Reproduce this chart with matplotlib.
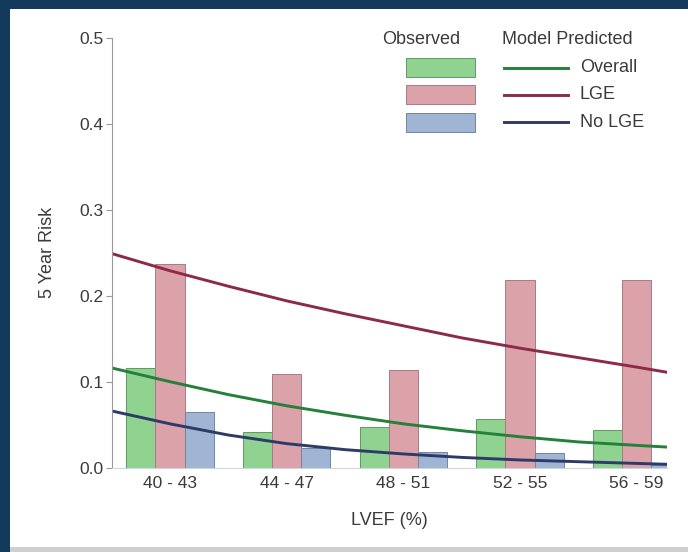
import numpy as np
import matplotlib
matplotlib.use('Agg')
import matplotlib.pyplot as plt
from matplotlib.patches import Rectangle
from matplotlib.lines import Line2D

plt.rcParams['font.family'] = ['Liberation Sans', 'DejaVu Sans']

# observed 5 year risk per LVEF bin
categories = ['40 - 43', '44 - 47', '48 - 51', '52 - 55', '56 - 59']
obs_overall = [0.116, 0.042, 0.047, 0.057, 0.044]
obs_lge = [0.237, 0.109, 0.114, 0.218, 0.218]
obs_no_lge = [0.065, 0.023, 0.018, 0.017, 0.003]

curve_x = [-0.5, 0, 0.5, 1, 1.5, 2, 2.5, 3, 3.5, 4, 4.26]
pred_overall = [0.116, 0.100, 0.085, 0.072, 0.061, 0.051, 0.043, 0.036, 0.030, 0.026, 0.024]
pred_lge = [0.249, 0.229, 0.211, 0.194, 0.179, 0.165, 0.151, 0.139, 0.128, 0.117, 0.111]
pred_no_lge = [0.066, 0.051, 0.038, 0.028, 0.021, 0.016, 0.012, 0.009, 0.007, 0.005, 0.004]

green, pink, blue = '#90d390', '#dba2aa', '#9fb5d3'
green_edge, pink_edge, blue_edge = '#5f9a62', '#a87a83', '#73869f'
green_line, red_line, blue_line = '#24803a', '#8c2a48', '#2c3b68'
txt = '#3a3a3a'

fig = plt.figure(figsize=(6.88, 5.52), dpi=100, facecolor='#133a5b')
# white panel and grey strip at the bottom, kept behind the axes
fig.patches.append(Rectangle((10 / 688, 5 / 552), 678 / 688, 538 / 552, zorder=-10,
                             transform=fig.transFigure, facecolor='white', edgecolor='none'))
fig.patches.append(Rectangle((10 / 688, 0), 678 / 688, 5 / 552, zorder=-10,
                             transform=fig.transFigure, facecolor='#cfcfcf', edgecolor='none'))

ax = fig.add_axes([0.1624, 0.1527, 0.807, 0.779])
ax.set_facecolor('white')

x = np.arange(len(categories))
w = 0.25
ax.bar(x - w, obs_overall, w, color=green, edgecolor=green_edge, linewidth=0.7)
ax.bar(x, obs_lge, w, color=pink, edgecolor=pink_edge, linewidth=0.7)
ax.bar(x + w, obs_no_lge, w, color=blue, edgecolor=blue_edge, linewidth=0.7)

ax.plot(curve_x, pred_lge, color=red_line, lw=2.1)
ax.plot(curve_x, pred_overall, color=green_line, lw=2.1)
ax.plot(curve_x, pred_no_lge, color=blue_line, lw=2.1)

ax.set_xlim(-0.5, 4.26)
ax.set_ylim(0, 0.5)
ax.set_xticks(x)
ax.set_xticklabels(categories, fontsize=12.5, color=txt)
ax.set_yticks([0, 0.1, 0.2, 0.3, 0.4, 0.5])
ax.set_yticklabels(['0.0', '0.1', '0.2', '0.3', '0.4', '0.5'], fontsize=12.5, color=txt)
ax.tick_params(axis='x', length=0, pad=6)
ax.tick_params(axis='y', length=4, color='#999999', pad=2)
for s in ['top', 'right']:
    ax.spines[s].set_visible(False)
ax.spines['left'].set_color('#999999')
ax.spines['bottom'].set_color('#cfd6e0')
ax.set_xlabel('LVEF (%)', fontsize=13, color=txt, labelpad=15)
ax.set_ylabel('5 Year Risk', fontsize=13, color=txt, labelpad=17)

# legend drawn by hand: observed patches and predicted lines
ax.text(0.557, 0.995, 'Observed', transform=ax.transAxes, ha='center', va='center',
        fontsize=13, color=txt)
ax.text(0.820, 0.995, 'Model Predicted', transform=ax.transAxes, ha='center', va='center',
        fontsize=13, color=txt)
names = ['Overall', 'LGE', 'No LGE']
fills = [green, pink, blue]
edges = [green_edge, pink_edge, blue_edge]
lines = [green_line, red_line, blue_line]
rows = [0.930, 0.867, 0.803]
for name, fc, ec, lc, yy in zip(names, fills, edges, lines, rows):
    ax.add_patch(Rectangle((0.530, yy - 0.022), 0.124, 0.044, transform=ax.transAxes,
                           facecolor=fc, edgecolor=ec, linewidth=0.7, clip_on=False))
    ax.add_line(Line2D([0.706, 0.822], [yy, yy], transform=ax.transAxes,
                       color=lc, lw=2.1, clip_on=False))
    ax.text(0.843, yy, name, transform=ax.transAxes, va='center', fontsize=13, color=txt)

fig.savefig('out.png', dpi=100, facecolor=fig.get_facecolor())
